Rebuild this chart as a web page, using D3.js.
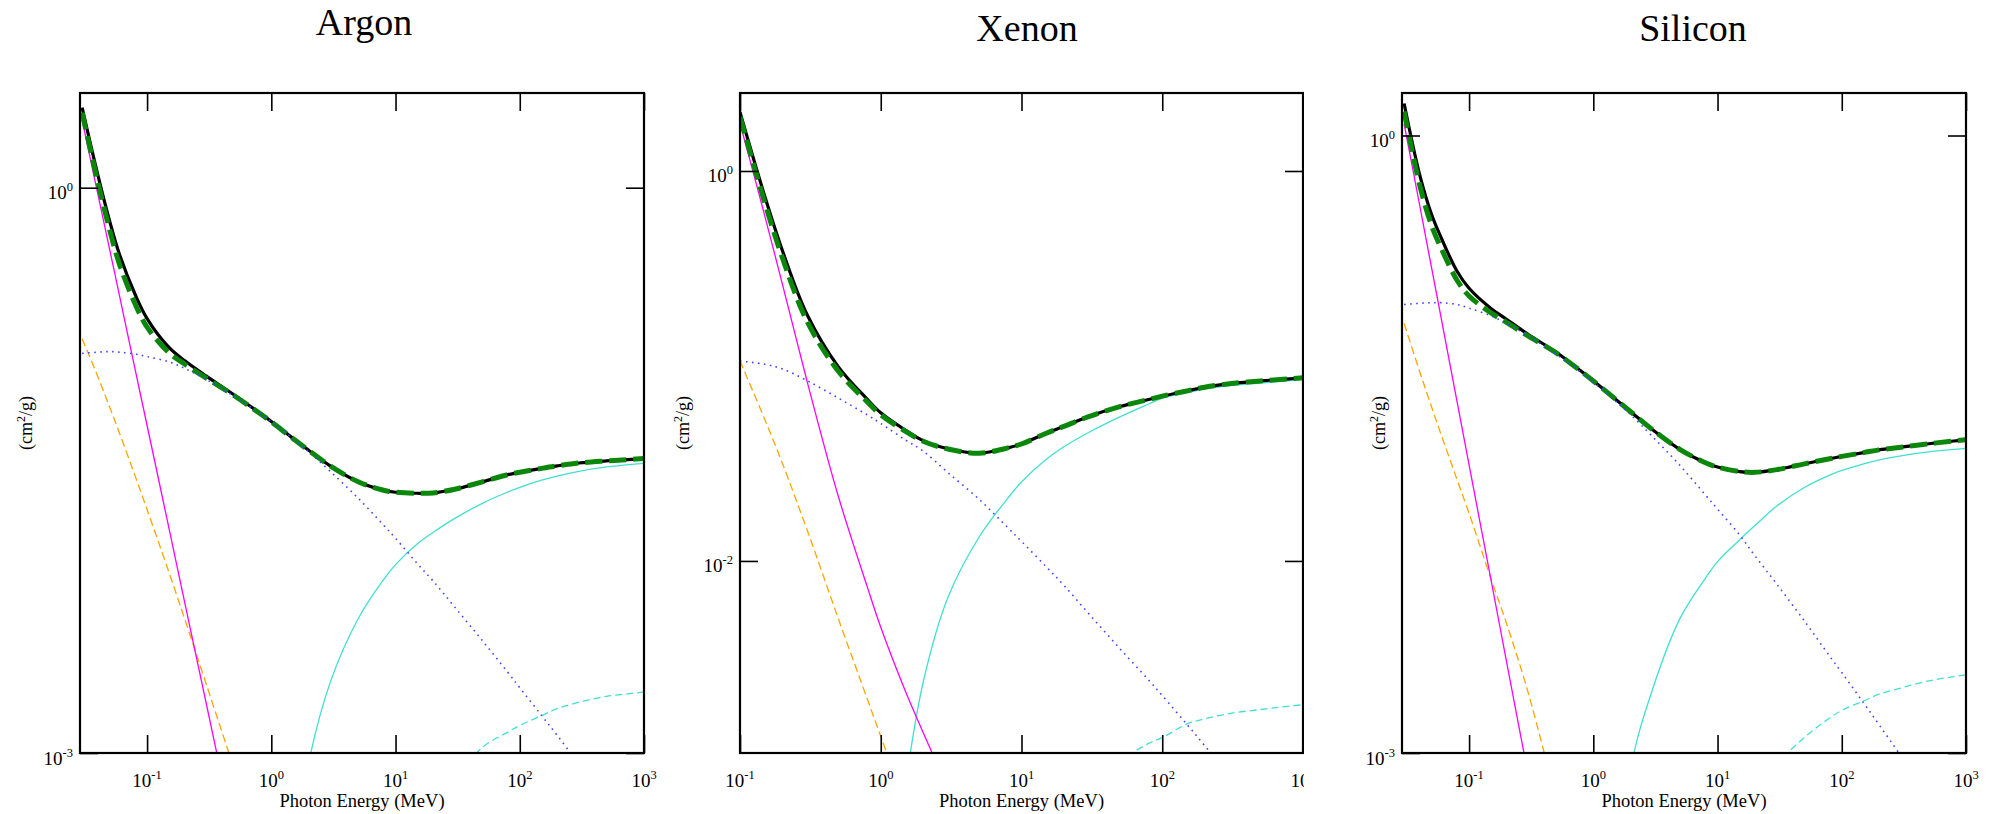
<!DOCTYPE html>
<html><head><meta charset="utf-8">
<script src="https://cdn.jsdelivr.net/npm/d3@7"></script>
<style>
body{margin:0;background:#fff;}
svg{display:block;}
text{font-family:"Liberation Serif","Times New Roman",serif;fill:#000;}
</style>
</head><body>
<svg id="c" width="1993" height="814"></svg>
<script>
// ---------- DATA (mass attenuation, cm^2/g, vs photon energy, MeV) ----------
const energyArSi = [0.03,0.04,0.05,0.06,0.08,0.1,0.15,0.2,0.3,0.5,0.8,1,1.5,2,3,5,8,10,15,20,30,50,80,100,150,200,300,500,800,1000];
const energyXe   = [0.1,0.15,0.2,0.3,0.5,0.8,1,1.5,2,3,5,8,10,15,20,30,50,80,100,150,200,300,500,800,1000];

// Argon
const argonTotal = [2.66,1.18,0.664,0.442,0.272,0.202,0.142,0.121,0.100,0.0797,0.064,0.0575,0.0466,0.0404,0.0333,0.0275,0.0248,0.0242,0.0239,0.0240,0.0251,0.0275,0.0300,0.0309,0.0324,0.0334,0.0346,0.0355,0.0362,0.0366];
const argonNoCoherent = [2.50,1.08,0.596,0.392,0.242,0.182,0.133,0.116,0.0977,0.0789,0.0637,0.0572,0.0465,0.0403,0.0333,0.0275,0.0248,0.0242,0.0239,0.0240,0.0251,0.0275,0.0300,0.0309,0.0324,0.0334,0.0346,0.0355,0.0362,0.0366];
const argonCoherent = [0.158,0.100,0.0684,0.0498,0.0296,0.0196,0.0091,0.00519,0.00231,0.00083,null,null,null,null,null,null,null,null,null,null,null,null,null,null,null,null,null,null,null,null];
const argonIncoherent = [0.132,0.134,0.135,0.134,0.131,0.127,0.119,0.110,0.0959,0.0783,0.0637,0.0573,0.0465,0.0397,0.0311,0.0225,0.0162,0.0138,0.0101,0.0082,0.00594,0.00395,0.00268,0.00222,0.00158,0.00124,0.000873,0.000558,null,null];
const argonPhoto = [2.29,0.935,0.469,0.267,0.109,0.0547,0.0156,0.00638,0.00182,0.000372,null,null,null,null,null,null,null,null,null,null,null,null,null,null,null,null,null,null,null,null];
const argonPairNuclear = [null,null,null,null,null,null,null,null,null,null,null,null,0.00025,0.00089,0.0024,0.00516,0.00832,0.0100,0.01288,0.01479,0.01758,0.02113,0.02427,0.0257,0.02805,0.02951,0.03126,0.03296,0.03404,0.03443];
const argonPairElectron = [null,null,null,null,null,null,null,null,null,null,null,null,null,null,null,null,null,null,null,0.00045,0.00071,0.00107,0.00129,0.0014,0.00158,0.00172,0.00186,0.0020,0.00207,0.00211];

// Xenon
const xenonTotal = [2.0,0.741,0.391,0.183,0.0989,0.0676,0.0575,0.0468,0.0414,0.0376,0.0357,0.038,0.0398,0.0452,0.049,0.055,0.0619,0.0673,0.070,0.0745,0.0778,0.0811,0.0838,0.0859,0.0869];
const xenonNoCoherent = [1.894,0.688,0.359,0.169,0.0939,0.0656,0.0562,0.0462,0.0411,0.0375,0.0357,0.038,0.0398,0.0452,0.049,0.055,0.0619,0.0673,0.070,0.0745,0.0778,0.0811,0.0838,0.0859,0.0869];
const xenonCoherent = [0.106,0.0532,0.0317,0.0144,0.00505,0.00197,0.00126,0.00056,null,null,null,null,null,null,null,null,null,null,null,null,null,null,null,null,null];
const xenonIncoherent = [0.106,0.102,0.0966,0.0841,0.0684,0.0562,0.0507,0.0417,0.0366,0.0284,0.0207,0.0148,0.0126,0.00933,0.0075,0.00537,0.00355,0.00245,0.00204,0.00145,0.00113,0.00079,null,null,null];
const xenonPhoto = [1.758,0.589,0.263,0.0832,0.0214,0.00741,0.00457,0.00214,0.00132,0.00068,null,null,null,null,null,null,null,null,null,null,null,null,null,null,null];
const xenonPairNuclear = [null,null,null,null,null,null,null,0.00071,0.00238,0.00649,0.01327,0.021,0.0254,0.0332,0.0385,0.0456,0.0548,0.0638,0.0684,0.0728,0.0762,0.0794,0.0818,0.0841,0.0853];
const xenonPairElectron = [null,null,null,null,null,null,null,null,null,null,null,null,null,null,null,0.00063,0.00093,0.00116,0.00124,0.00146,0.00155,0.00165,0.00173,0.0018,0.00183];

// Silicon
const siliconTotal = [1.43,0.646,0.412,0.316,0.219,0.181,0.1445,0.128,0.108,0.0887,0.0716,0.0643,0.0525,0.0455,0.0372,0.0298,0.0257,0.0245,0.0233,0.0231,0.0238,0.0254,0.0269,0.0276,0.0288,0.0297,0.0306,0.0318,0.0328,0.0333];
const siliconNoCoherent = [1.308,0.575,0.364,0.281,0.198,0.166,0.1375,0.1237,0.106,0.0881,0.0714,0.0642,0.0525,0.0455,0.0372,0.0298,0.0257,0.0245,0.0233,0.0231,0.0238,0.0254,0.0269,0.0276,0.0288,0.0297,0.0306,0.0318,0.0328,0.0333];
const siliconCoherent = [0.122,0.0714,0.0478,0.0348,0.0213,0.0146,0.00702,0.00427,0.00195,0.0006,null,null,null,null,null,null,null,null,null,null,null,null,null,null,null,null,null,null,null,null];
const siliconIncoherent = [0.151,0.153,0.154,0.154,0.151,0.145,0.133,0.122,0.1064,0.0867,0.0705,0.0634,0.0514,0.044,0.0344,0.0249,0.0179,0.0153,0.0115,0.00908,0.00661,0.00438,0.00295,0.00246,0.00175,0.00137,0.000966,0.000618,null,null];
const siliconPhoto = [1.14,0.459,0.226,0.127,0.0509,0.0251,0.00695,0.00279,0.000773,null,null,null,null,null,null,null,null,null,null,null,null,null,null,null,null,null,null,null,null,null];
const siliconPairNuclear = [null,null,null,null,null,null,null,null,null,null,null,null,0.0001,0.00083,0.00204,0.00452,0.00708,0.00851,0.01084,0.01274,0.01585,0.0195,0.02239,0.0236,0.0254,0.02655,0.0278,0.02904,0.02985,0.0302];
const siliconPairElectron = [null,null,null,null,null,null,null,null,null,null,null,null,null,null,null,null,null,null,null,0.00056,0.00087,0.00119,0.00148,0.00161,0.00179,0.00193,0.00207,0.00224,0.00235,0.0024];

// Ticks and labels
const xTickValues = [0.1, 1, 10, 100, 1000];
const argonYTicks = [0.001, 1];
const xenonYTicks = [0.01, 1];
const siliconYTicks = [0.001, 1];
const panelTitles = ["Argon", "Xenon", "Silicon"];
const xAxisTitle = "Photon Energy (MeV)";

// ---------- LAYOUT & STYLE ----------
const svg = d3.select("#c");

const panels = [
  { title: panelTitles[0], energy: energyArSi,
    series: { total: argonTotal, noCoh: argonNoCoherent, coherent: argonCoherent, incoherent: argonIncoherent,
              photo: argonPhoto, pairNuc: argonPairNuclear, pairEl: argonPairElectron },
    xDomain: [Math.pow(10, -1.54), 1000], yDomain: [0.001, Math.pow(10, 0.5026)], yTicks: argonYTicks,
    box: { left: 80, right: 644, top: 93, bottom: 753 }, titleX: 364, titleY: 35, yTitleX: 32, clipRight: null },
  { title: panelTitles[1], energy: energyXe,
    series: { total: xenonTotal, noCoh: xenonNoCoherent, coherent: xenonCoherent, incoherent: xenonIncoherent,
              photo: xenonPhoto, pairNuc: xenonPairNuclear, pairEl: xenonPairElectron },
    xDomain: [0.1, 1000], yDomain: [Math.pow(10, -2.985), Math.pow(10, 0.4)], yTicks: xenonYTicks,
    box: { left: 740, right: 1303, top: 93, bottom: 753 }, titleX: 1027, titleY: 41, yTitleX: 689, clipRight: 1304 },
  { title: panelTitles[2], energy: energyArSi,
    series: { total: siliconTotal, noCoh: siliconNoCoherent, coherent: siliconCoherent, incoherent: siliconIncoherent,
              photo: siliconPhoto, pairNuc: siliconPairNuclear, pairEl: siliconPairElectron },
    xDomain: [Math.pow(10, -1.54), 1000], yDomain: [0.001, Math.pow(10, 0.2065)], yTicks: siliconYTicks,
    box: { left: 1402, right: 1966, top: 93, bottom: 753 }, titleX: 1693, titleY: 41, yTitleX: 1385, clipRight: null }
];

const styles = [
  { key: "pairEl",     color: "#40e0d0", width: 1.3, dash: "7,4" },
  { key: "pairNuc",    color: "#40e0d0", width: 1.3, dash: null },
  { key: "coherent",   color: "#ffa500", width: 1.3, dash: "8,4" },
  { key: "photo",      color: "#ff00ff", width: 1.3, dash: null },
  { key: "total",      color: "#000000", width: 3.2, dash: null },
  { key: "noCoh",      color: "#0b870b", width: 5,   dash: "17,7" },
  { key: "incoherent", color: "#4444ff", width: 1.6, dash: "1.6,4.4" }
];

const defs = svg.append("defs");
const TICK = 18;

function exponentOf(v) { return String(Math.round(Math.log10(v))); }

panels.forEach((p, pi) => {
  const b = p.box;
  const g = svg.append("g");
  if (p.clipRight) {
    defs.append("clipPath").attr("id", "panelclip" + pi)
      .append("rect").attr("x", b.left - 200).attr("y", 0).attr("width", p.clipRight - (b.left - 200)).attr("height", 814);
    g.attr("clip-path", "url(#panelclip" + pi + ")");
  }
  defs.append("clipPath").attr("id", "plotclip" + pi)
    .append("rect").attr("x", b.left).attr("y", b.top).attr("width", b.right - b.left).attr("height", b.bottom - b.top);

  const x = d3.scaleLog().domain(p.xDomain).range([b.left, b.right]);
  const y = d3.scaleLog().domain(p.yDomain).range([b.bottom, b.top]);

  // Title
  g.append("text").attr("x", p.titleX).attr("y", p.titleY).attr("text-anchor", "middle")
    .attr("font-size", 38).text(p.title);

  // Curves
  const cg = g.append("g").attr("clip-path", "url(#plotclip" + pi + ")");
  styles.forEach(s => {
    const vals = p.series[s.key];
    const pts = p.energy.map((e, i) => [e, vals[i]]);
    const line = d3.line()
      .defined(d => d[1] != null && d[1] > 0)
      .x(d => x(d[0])).y(d => y(d[1]))
      .curve(d3.curveCatmullRom.alpha(0.5));
    const path = cg.append("path").datum(pts).attr("d", line)
      .attr("fill", "none").attr("stroke", s.color).attr("stroke-width", s.width)
      .attr("stroke-linejoin", "round");
    if (s.dash) path.attr("stroke-dasharray", s.dash);
  });

  // Axes ticks (inward) via d3 axes
  const axStyle = sel => {
    sel.select(".domain").remove();
    sel.selectAll(".tick text").remove();
    sel.selectAll(".tick line").attr("stroke", "#000").attr("stroke-width", 1.6);
  };
  g.append("g").attr("transform", `translate(0,${b.bottom})`)
    .call(d3.axisBottom(x).tickValues(xTickValues).tickSizeInner(-TICK).tickSizeOuter(0)).call(axStyle);
  g.append("g").attr("transform", `translate(0,${b.top})`)
    .call(d3.axisTop(x).tickValues(xTickValues).tickSizeInner(-TICK).tickSizeOuter(0)).call(axStyle);
  g.append("g").attr("transform", `translate(${b.left},0)`)
    .call(d3.axisLeft(y).tickValues(p.yTicks).tickSizeInner(-TICK).tickSizeOuter(0)).call(axStyle);
  g.append("g").attr("transform", `translate(${b.right},0)`)
    .call(d3.axisRight(y).tickValues(p.yTicks).tickSizeInner(-TICK).tickSizeOuter(0)).call(axStyle);

  // Frame
  g.append("rect").attr("x", b.left).attr("y", b.top).attr("width", b.right - b.left).attr("height", b.bottom - b.top)
    .attr("fill", "none").attr("stroke", "#000").attr("stroke-width", 2.2);

  // X tick labels
  xTickValues.forEach(v => {
    const t = g.append("text").attr("x", x(v)).attr("y", b.bottom + 34).attr("text-anchor", "middle").attr("font-size", 19);
    t.append("tspan").text("10");
    t.append("tspan").attr("dy", -8).attr("font-size", 12.5).text(exponentOf(v));
  });
  // Y tick labels
  p.yTicks.forEach(v => {
    const t = g.append("text").attr("x", b.left - 7).attr("y", y(v) + 11.5).attr("text-anchor", "end").attr("font-size", 19);
    t.append("tspan").text("10");
    t.append("tspan").attr("dy", -8).attr("font-size", 12.5).text(exponentOf(v));
  });

  // Axis titles
  g.append("text").attr("x", (b.left + b.right) / 2).attr("y", 807).attr("text-anchor", "middle")
    .attr("font-size", 18.5).text(xAxisTitle);
  const yt = g.append("text").attr("transform", `translate(${p.yTitleX},${(b.top + b.bottom) / 2}) rotate(-90)`)
    .attr("text-anchor", "middle").attr("font-size", 18);
  yt.append("tspan").text("(cm");
  yt.append("tspan").attr("dy", -7).attr("font-size", 12).text("2");
  yt.append("tspan").attr("dy", 7).text("/g)");
});
</script>
</body></html>
